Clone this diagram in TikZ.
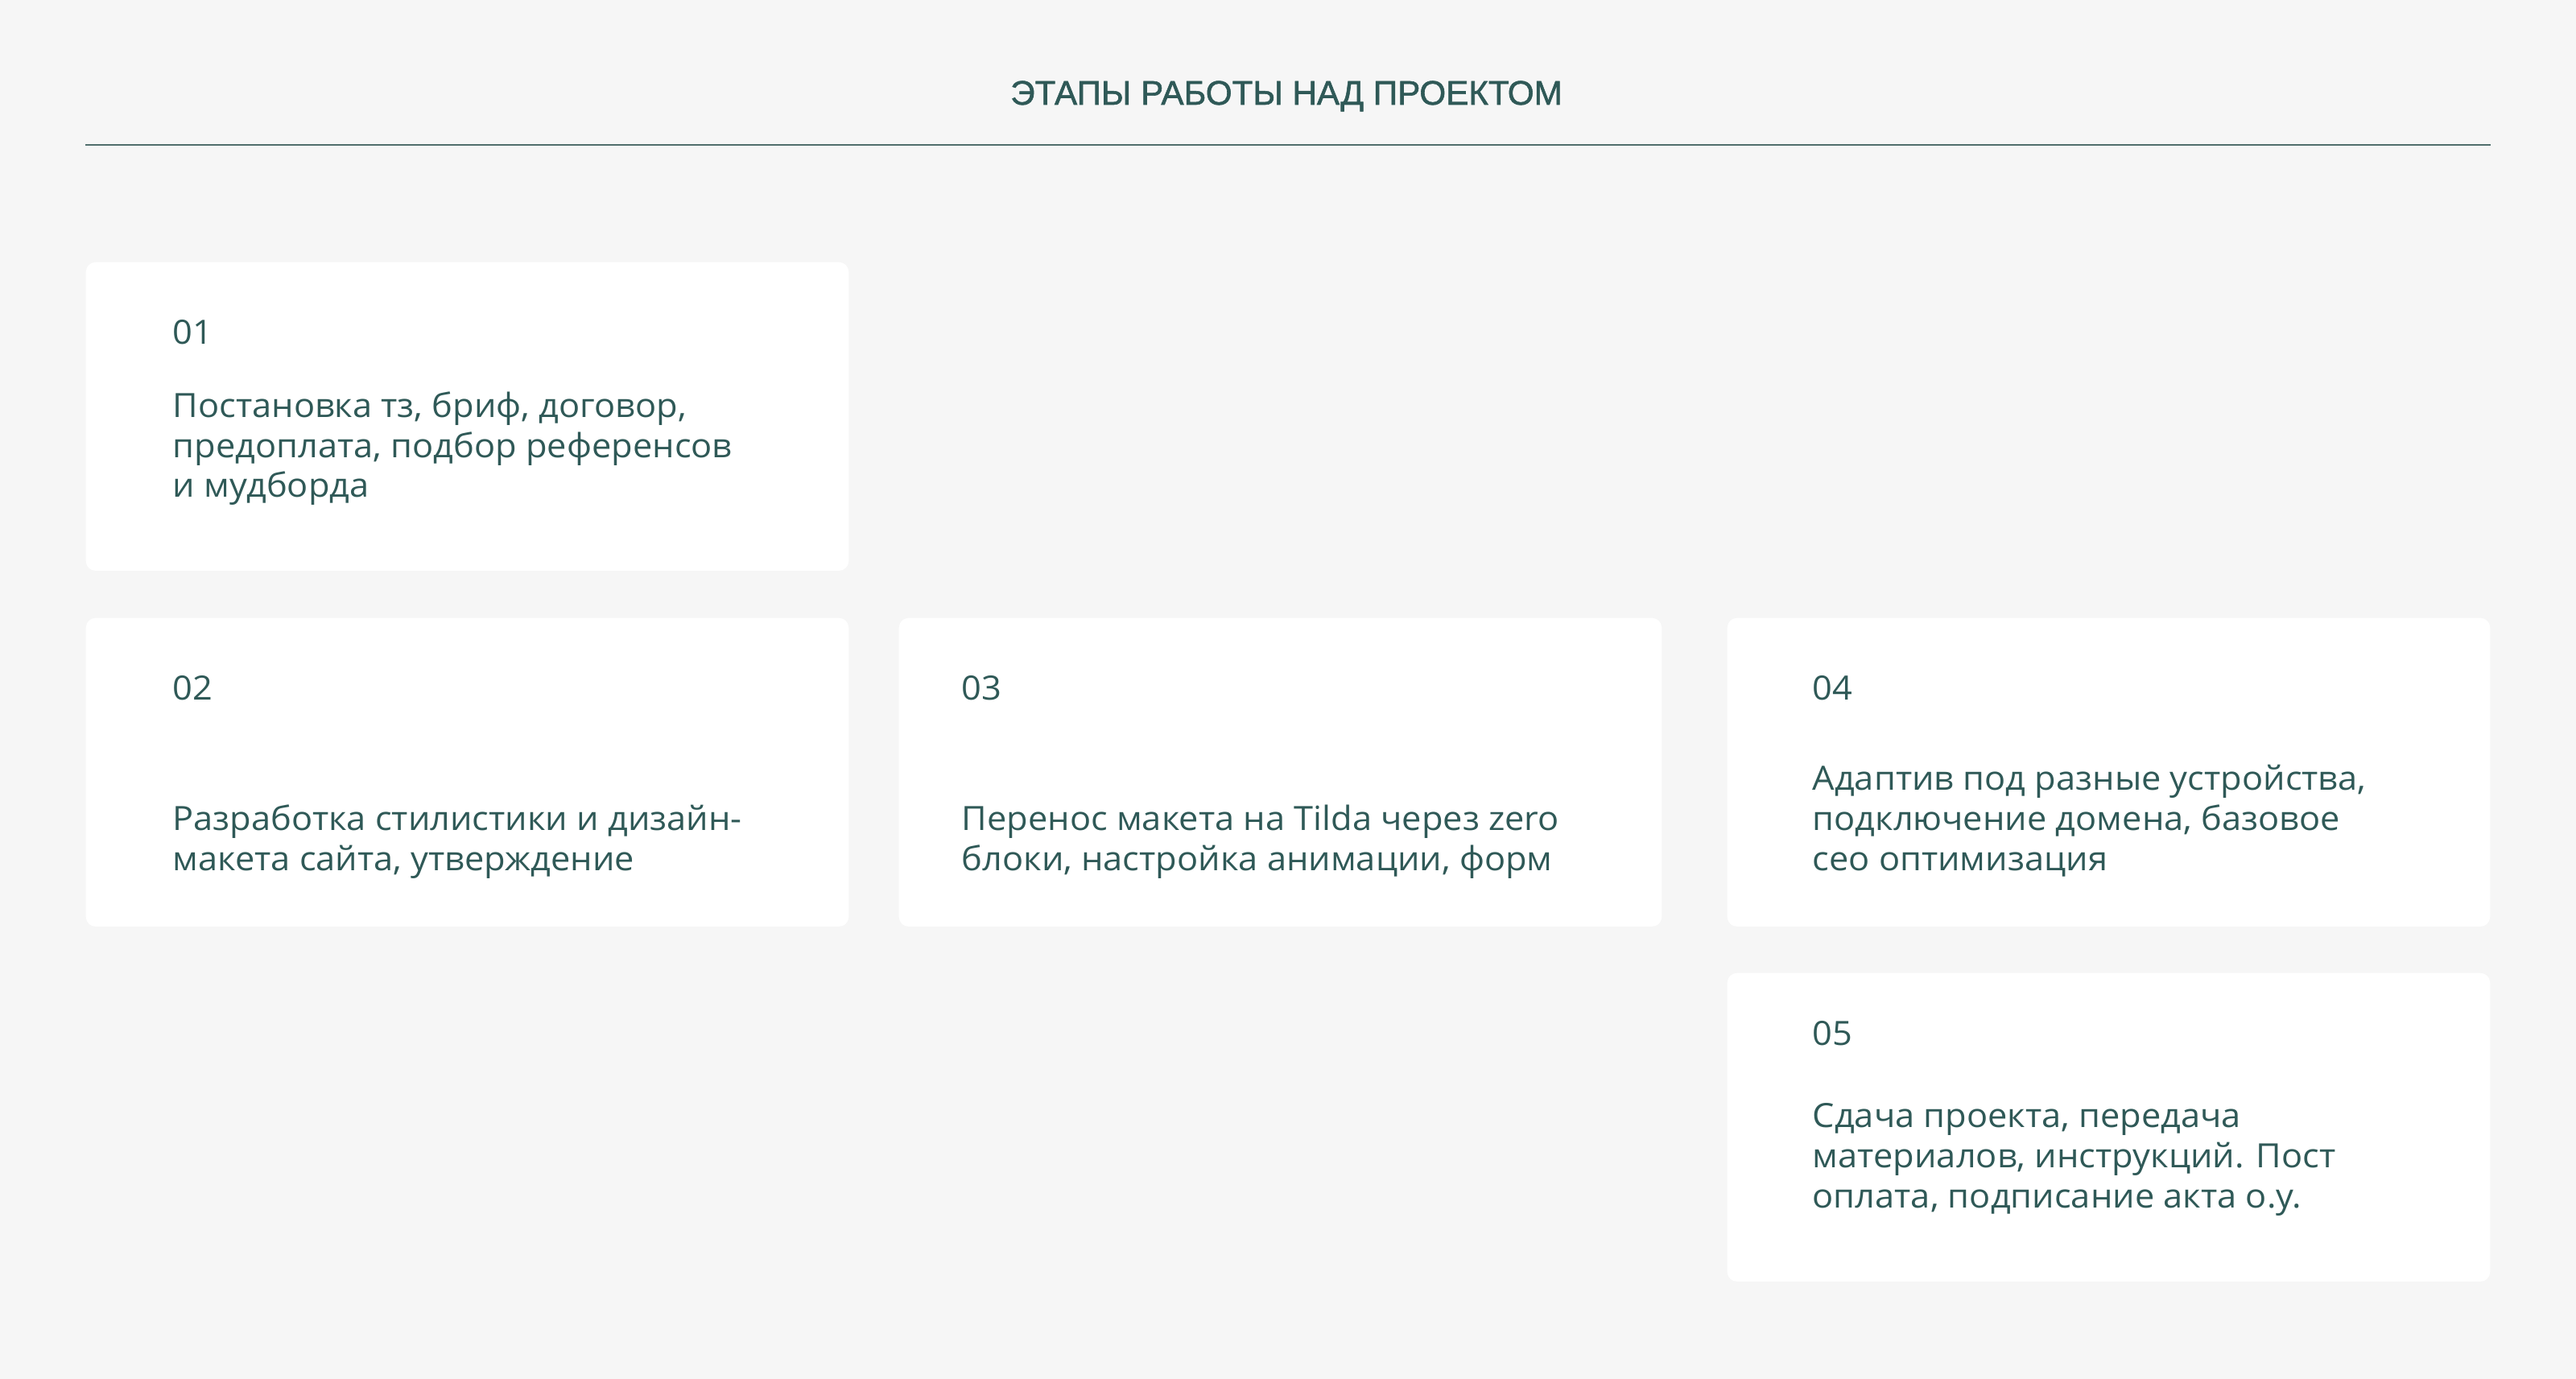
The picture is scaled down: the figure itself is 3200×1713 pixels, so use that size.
\documentclass[tikz,border=0pt]{standalone}
\usepackage{fontspec}
\setmainfont{Open Sans}[FakeStretch=1.045]
\newfontfamily\titlefont{Liberation Sans}[FakeBold=1.4]
\usetikzlibrary{positioning}

\definecolor{pagebg}{HTML}{F6F6F6}
\definecolor{inkteal}{HTML}{2F5957}
\definecolor{rulegrey}{HTML}{506E6C}

\tikzset{
  card/.style={fill=white, rounded corners=0.12cm, anchor=north west,
    minimum width=9.47cm, minimum height=3.83cm, inner sep=0pt},
  stepnum/.style={anchor=base west, inner sep=0pt, text=inkteal,
    font=\fontsize{11.8}{14.2}\selectfont},
  steptext/.style={anchor=base west, inner sep=0pt, text=inkteal, align=left,
    font=\fontsize{11.8}{14.2}\selectfont},
}

\begin{document}
\begin{tikzpicture}[x=0.01cm, y=-0.01cm]
  \fill[pagebg] (0,0) rectangle (3200,1713);
  \useasboundingbox (0,0) rectangle (3200,1713);

  % heading and rule
  \node[anchor=base, inner sep=0pt, text=inkteal,
    font=\titlefont\fontsize{12}{14}\selectfont] (title) at (1598,130)
    {ЭТАПЫ РАБОТЫ НАД ПРОЕКТОМ};
  \coordinate (ruleL) at (106,180);
  \coordinate (ruleR) at (3094,180);
  \draw[rulegrey, line width=0.6pt] (ruleL) -- (ruleR);

  % cards
  \node[card] (card1) at (106,325) {};
  \node[card] (card2) at (106,767) {};
  \node[card] (card3) at (1116,767) {};
  \node[card] (card4) at (2145,767) {};
  \node[card] (card5) at (2145,1208) {};

  % step 01 (base = last line)
  \node[stepnum] (num1) at (214,428) {01};
  \node[steptext] (txt1) at (214,618)
    {Постановка тз, бриф, договор,\\предоплата, подбор референсов\\и мудборда};

  % step 02
  \node[stepnum] (num2) at (214,870) {02};
  \node[steptext] (txt2) at (214,1081)
    {Разработка стилистики и дизайн-\\макета сайта, утверждение};

  % step 03
  \node[stepnum] (num3) at (1194,870) {03};
  \node[steptext] (txt3) at (1194,1081)
    {Перенос макета на Tilda через zero\\блоки, настройка анимации, форм};

  % step 04
  \node[stepnum] (num4) at (2251,870) {04};
  \node[steptext] (txt4) at (2251,1081)
    {Адаптив под разные устройства,\\подключение домена, базовое\\сео оптимизация};

  % step 05
  \node[stepnum] (num5) at (2251,1298) {05};
  \node[steptext] (txt5) at (2251,1500)
    {Сдача проекта, передача\\материалов, инструкций. Пост\\оплата, подписание акта о.у.};
\end{tikzpicture}
\end{document}
